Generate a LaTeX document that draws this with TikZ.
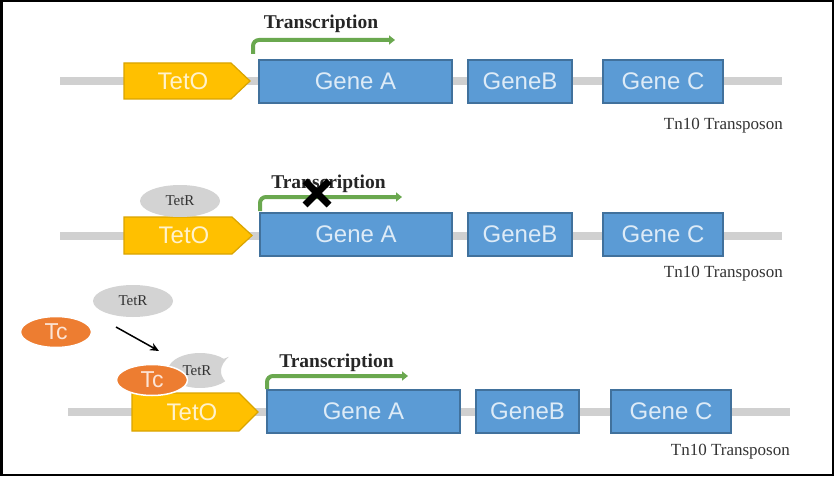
\documentclass[tikz,border=0pt]{standalone}
\usepackage{fontspec}
\setmainfont{Liberation Serif}
\newfontfamily\genefont{Liberation Sans}
\usetikzlibrary{arrows.meta,shapes.geometric}

\definecolor{geneblue}{HTML}{5B9BD5}
\definecolor{geneedge}{HTML}{41719C}
\definecolor{genetext}{HTML}{DDEBF7}
\definecolor{tetofill}{HTML}{FFC000}
\definecolor{tetoedge}{HTML}{D9A400}
\definecolor{tetotext}{HTML}{FFF2CC}
\definecolor{dnagray}{HTML}{D0D0D0}
\definecolor{arrowgreen}{HTML}{6AA84F}
\definecolor{tcorange}{HTML}{ED7D31}
\definecolor{tctext}{HTML}{FCE4D6}
\definecolor{tetrgray}{HTML}{D3D3D3}

\tikzset{
  genebox/.style={draw=geneedge, line width=1.2pt, fill=geneblue, text=genetext,
    minimum height=43pt, inner sep=0pt, font=\genefont\fontsize{24}{24}\selectfont},
  dna/.style={line width=8pt, draw=dnagray},
  tetobox/.style={draw=tetoedge, line width=1.2pt, fill=tetofill},
  tetolabel/.style={text=tetotext, inner sep=0pt, font=\genefont\fontsize{24}{24}\selectfont},
  txarrow/.style={line width=4pt, draw=arrowgreen, rounded corners=6pt,
    -{Triangle[length=6pt,width=9pt]}},
  txlabel/.style={font=\bfseries\fontsize{19.5}{20}\selectfont, text=black!85, anchor=base, inner sep=0pt},
  tnlabel/.style={font=\fontsize{17}{17}\selectfont, text=black!80, anchor=base east, inner sep=0pt},
  tetr/.style={ellipse, fill=tetrgray, minimum width=80pt, minimum height=32pt, inner sep=0pt,
    font=\fontsize{15}{15}\selectfont, text=black!80},
  tc/.style={ellipse, fill=tcorange, draw=white, line width=1.5pt, minimum width=71pt,
    minimum height=31pt, inner sep=0pt, text=tctext, font=\genefont\fontsize{23}{23}\selectfont}
}

\begin{document}
\begin{tikzpicture}[x=1pt,y=-1pt]
  %%%%% FRAME %%%%%
  \useasboundingbox (0,0) rectangle (834,476);
  \fill[white] (0,0) rectangle (834,476);
  \draw[line width=2.5pt] (1.25,1.25) rectangle (832.75,474.75);

  %%%%% ROW 1 : free operator %%%%%
  \draw[dna] (60,81) -- (782,81);
  \draw[tetobox] (124,63) -- (231,63) -- (250,81) -- (231,99) -- (124,99) -- cycle;
  \node[tetolabel] (teto1) at (183,81) {TetO};
  \node[genebox, minimum width=193pt] (geneA1) at (355.5,81.5) {Gene A};
  \node[genebox, minimum width=104pt] (geneB1) at (520,81.5) {GeneB};
  \node[genebox, minimum width=120pt] (geneC1) at (663,81.5) {Gene C};
  \node[tnlabel] (tn1) at (783,129) {Tn10 Transposon};

  \node[txlabel] (tx1) at (321,29) {Transcription};
  \draw[txarrow] (253,54) -- (253,40) -- (395,40);

  %%%%% ROW 2 : TetR bound, blocked %%%%%
  \draw[dna] (60,236) -- (782,236);
  \draw[tetobox] (124,217) -- (232,217) -- (252,235.5) -- (232,254) -- (124,254) -- cycle;
  \node[tetolabel] (teto2) at (184,235.5) {TetO};
  \node[genebox, minimum width=192pt] (geneA2) at (356,234.5) {Gene A};
  \node[genebox, minimum width=104pt] (geneB2) at (520,234.5) {GeneB};
  \node[genebox, minimum width=120pt] (geneC2) at (663,234.5) {Gene C};
  \node[tnlabel] (tn2) at (783,277) {Tn10 Transposon};

  \node[tetr] (tetr2) at (180,201) {TetR};

  \node[txlabel] (tx2) at (328.5,188) {Transcription};
  \draw[txarrow] (260,211) -- (260,197) -- (402,197);
  \draw[line width=7pt] (305,181) -- (329,205);
  \draw[line width=7pt] (305,205) -- (329,181);

  %%%%% ROW 3 : Tc releases TetR %%%%%
  \draw[dna] (68,412) -- (790,412);
  \draw[tetobox] (132,393) -- (239,393) -- (258,412) -- (239,431) -- (132,431) -- cycle;
  \node[tetolabel] (teto3) at (192,412) {TetO};
  \node[genebox, minimum width=193pt] (geneA3) at (363.5,411.5) {Gene A};
  \node[genebox, minimum width=103pt] (geneB3) at (527.5,411.5) {GeneB};
  \node[genebox, minimum width=120pt] (geneC3) at (671,411.5) {Gene C};
  \node[tnlabel] (tn3) at (790,455) {Tn10 Transposon};

  \node[txlabel] (tx3) at (336.5,367) {Transcription};
  \draw[txarrow] (267,389) -- (267,376) -- (408,376);

  \node[tetr] (tetr3) at (133,301) {TetR};
  \node[tc] (tc3) at (56,332) {Tc};
  \coordinate (bindfrom) at (116,327);
  \coordinate (bindto) at (159,351);
  \draw[line width=1.5pt, -{Stealth[length=9pt,width=8pt]}] (bindfrom) -- (bindto);

  % TetR with the Tc pocket
  \fill[tetrgray] (200,370.5) ++(38:32 and 17.5) arc (38:318:32 and 17.5)
    -- ++(5,-2) .. controls (219,366) and (219,374) .. cycle;
  \node[font=\fontsize{15}{15}\selectfont, text=black!80, inner sep=0pt] (tetrB) at (197,371) {TetR};
  \node[tc] (tcB) at (152,380) {Tc};

\end{tikzpicture}
\end{document}
